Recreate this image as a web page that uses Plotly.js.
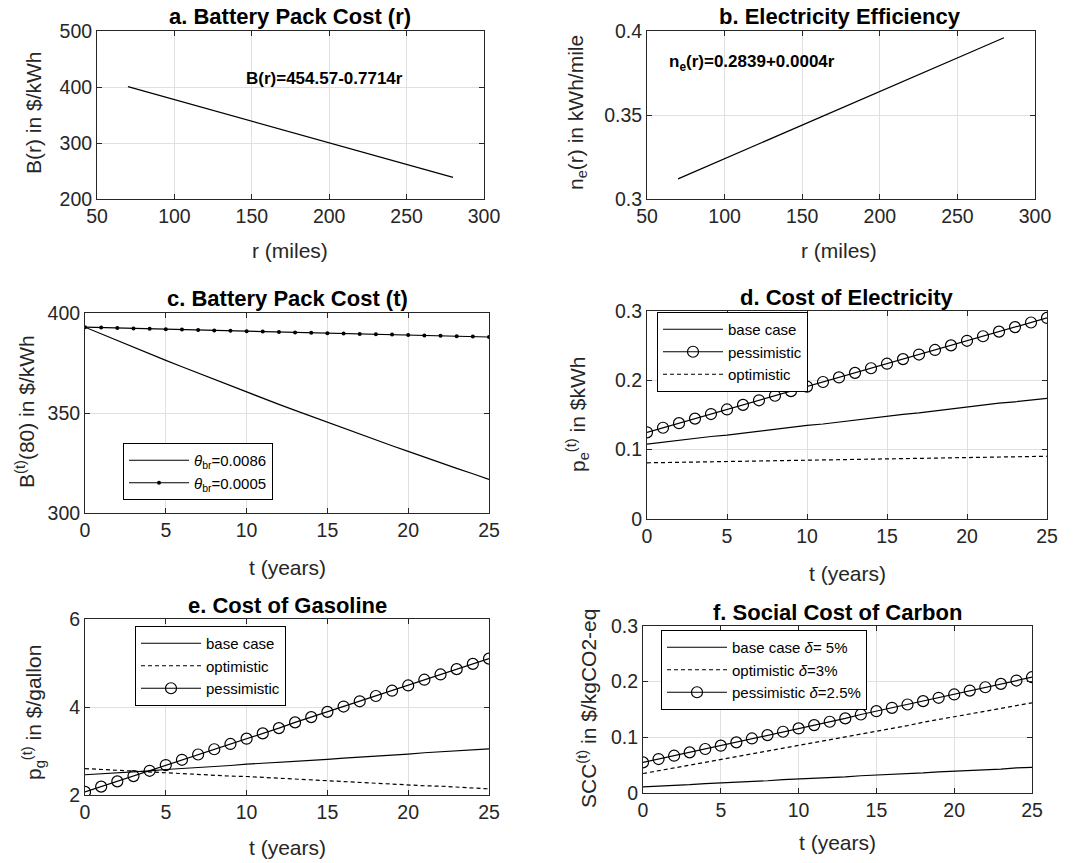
<!DOCTYPE html>
<html><head><meta charset="utf-8">
<script src="https://cdn.plot.ly/plotly-3.0.1.min.js"></script>
<style>html,body{margin:0;padding:0;background:#fff;}#chart{width:1078px;height:863px;}</style>
</head><body><div id="chart"></div>
<script>
// ---- data ----
const rMiles = [70, 280];
const batteryCostR = [400.6, 238.6];
const efficiencyR = [0.312, 0.396];
const years = [0,1,2,3,4,5,6,7,8,9,10,11,12,13,14,15,16,17,18,19,20,21,22,23,24,25];
const battery0086 = [392.9,389.5,386.2,382.9,379.6,376.3,373.1,369.9,366.7,363.6,360.5,357.4,354.3,351.3,348.3,345.3,342.3,339.4,336.5,333.6,330.8,327.9,325.1,322.3,319.6,316.8];
const battery0005 = [392.9,392.7,392.5,392.3,392.1,391.9,391.7,391.5,391.3,391.1,390.9,390.7,390.5,390.3,390.1,389.9,389.7,389.5,389.4,389.2,389.0,388.8,388.6,388.4,388.2,388.0];
const elecBase = [0.108,0.111,0.113,0.116,0.119,0.121,0.124,0.127,0.129,0.132,0.135,0.137,0.140,0.143,0.145,0.148,0.151,0.153,0.156,0.159,0.161,0.164,0.167,0.169,0.172,0.174];
const elecPess = [0.125,0.1316,0.1382,0.1448,0.1514,0.158,0.1646,0.1712,0.1778,0.1844,0.191,0.1976,0.2042,0.2108,0.2174,0.224,0.2306,0.2372,0.2438,0.2504,0.257,0.2636,0.2702,0.2768,0.2834,0.29];
const elecOpt = [0.0810,0.0814,0.0818,0.0821,0.0825,0.0829,0.0833,0.0837,0.0840,0.0844,0.0848,0.0852,0.0856,0.0859,0.0863,0.0867,0.0871,0.0875,0.0878,0.0882,0.0886,0.0890,0.0894,0.0897,0.0901,0.0905];
const gasBase = [2.46,2.48,2.51,2.53,2.55,2.58,2.60,2.63,2.65,2.67,2.70,2.72,2.74,2.77,2.79,2.81,2.84,2.86,2.88,2.91,2.93,2.96,2.98,3.00,3.03,3.05];
const gasOpt = [2.60,2.58,2.56,2.54,2.53,2.51,2.49,2.47,2.45,2.43,2.42,2.40,2.38,2.36,2.34,2.32,2.31,2.29,2.27,2.25,2.23,2.21,2.20,2.18,2.16,2.14];
const gasPess = [2.07,2.19,2.31,2.43,2.55,2.68,2.80,2.92,3.04,3.16,3.28,3.40,3.52,3.65,3.77,3.89,4.01,4.13,4.25,4.37,4.49,4.62,4.74,4.86,4.98,5.10];
const sccBase = [0.011,0.012,0.014,0.015,0.017,0.018,0.019,0.021,0.022,0.024,0.025,0.026,0.028,0.029,0.031,0.032,0.033,0.035,0.036,0.038,0.039,0.040,0.042,0.043,0.045,0.046];
const sccOpt = [0.035,0.040,0.045,0.050,0.055,0.060,0.065,0.070,0.076,0.081,0.086,0.091,0.096,0.101,0.106,0.111,0.116,0.121,0.127,0.132,0.137,0.142,0.147,0.152,0.157,0.162];
const sccPess = [0.055,0.061,0.067,0.073,0.079,0.085,0.091,0.098,0.104,0.110,0.116,0.122,0.128,0.134,0.141,0.147,0.153,0.159,0.165,0.171,0.177,0.184,0.190,0.196,0.202,0.208];

const rTicks = [50,100,150,200,250,300];
const tTicks = [0,5,10,15,20,25];
const yTicksA = [200,300,400,500];
const yTicksB = [0.3,0.35,0.4];
const yTicksC = [300,350,400];
const yTicksD = [0,0.1,0.2,0.3];
const yTicksE = [2,4,6];
const yTicksF = [0,0.1,0.2,0.3];

const titles = ['a. Battery Pack Cost (r)','b. Electricity Efficiency','c. Battery Pack Cost (t)','d. Cost of Electricity','e. Cost of Gasoline','f. Social Cost of Carbon'];
const xLabels = ['r (miles)','r (miles)','t (years)','t (years)','t (years)','t (years)'];
const yLabels = ['B(r) in $/kWh','n<sub>e</sub>(r) in kWh/mile','B<sup>(t)</sup>(80) in $/kWh','p<sub>e</sub><sup>(t)</sup> in $kWh','p<sub>g</sub><sup>(t)</sup> in $/gallon','SCC<sup>(t)</sup> in $/kgCO2-eq'];

// ---- layout helpers ----
const W = 1078, H = 863;
const FONT = 'Liberation Sans, Arial, sans-serif';
const px = v => v / W;
const py = v => 1 - v / H;

function axis(domain, range, ticks, extra) {
  return Object.assign({
    domain: domain, range: range, tickvals: ticks, ticktext: ticks.map(String),
    showline: true, mirror: 'ticks', linecolor: '#262626', linewidth: 1,
    ticks: 'inside', ticklen: 5, tickcolor: '#262626',
    showgrid: true, gridcolor: '#e0e0e0', gridwidth: 1, zeroline: false,
    tickfont: {family: FONT, size: 19.5, color: '#262626'}, fixedrange: true
  }, extra || {});
}

const DASH = '4px,3px';
const line = (dash) => ({color: '#000', width: 1.2, dash: dash || 'solid'});
const openCircle = {symbol: 'circle-open', size: 11, color: '#000', line: {width: 1.2}};
const traces = [
  {x: rMiles, y: batteryCostR, xaxis: 'x', yaxis: 'y', mode: 'lines', line: line(), showlegend: false},
  {x: rMiles, y: efficiencyR, xaxis: 'x2', yaxis: 'y2', mode: 'lines', line: line(), showlegend: false},
  {x: years, y: battery0086, xaxis: 'x3', yaxis: 'y3', mode: 'lines', line: line(), name: '<i>θ</i><sub>br</sub>=0.0086', legend: 'legend'},
  {x: years, y: battery0005, xaxis: 'x3', yaxis: 'y3', mode: 'lines+markers', line: line(), marker: {symbol: 'circle', size: 4, color: '#000'}, name: '<i>θ</i><sub>br</sub>=0.0005', legend: 'legend'},
  {x: years, y: elecBase, xaxis: 'x4', yaxis: 'y4', mode: 'lines', line: line(), name: 'base case', legend: 'legend2'},
  {x: years, y: elecPess, xaxis: 'x4', yaxis: 'y4', mode: 'lines+markers', line: line(), marker: openCircle, name: 'pessimistic', legend: 'legend2'},
  {x: years, y: elecOpt, xaxis: 'x4', yaxis: 'y4', mode: 'lines', line: line(DASH), name: 'optimistic', legend: 'legend2'},
  {x: years, y: gasBase, xaxis: 'x5', yaxis: 'y5', mode: 'lines', line: line(), name: 'base case', legend: 'legend3'},
  {x: years, y: gasOpt, xaxis: 'x5', yaxis: 'y5', mode: 'lines', line: line(DASH), name: 'optimistic', legend: 'legend3'},
  {x: years, y: gasPess, xaxis: 'x5', yaxis: 'y5', mode: 'lines+markers', line: line(), marker: openCircle, name: 'pessimistic', legend: 'legend3'},
  {x: years, y: sccBase, xaxis: 'x6', yaxis: 'y6', mode: 'lines', line: line(), name: 'base case <i>δ</i>= 5%', legend: 'legend4'},
  {x: years, y: sccOpt, xaxis: 'x6', yaxis: 'y6', mode: 'lines', line: line(DASH), name: 'optimistic <i>δ</i>=3%', legend: 'legend4'},
  {x: years, y: sccPess, xaxis: 'x6', yaxis: 'y6', mode: 'lines+markers', line: line(), marker: openCircle, name: 'pessimistic <i>δ</i>=2.5%', legend: 'legend4'}
];

const legendStyle = (x, y) => ({
  x: px(x), y: py(y), xanchor: 'left', yanchor: 'top', xref: 'paper', yref: 'paper',
  bgcolor: '#fff', bordercolor: '#000', borderwidth: 1, traceorder: 'normal',
  itemwidth: 60,
  font: {family: FONT, size: 15, color: '#000'}, itemclick: false, itemdoubleclick: false
});

// panel rectangles in pixels: [left, right, top, bottom]
const boxes = [[97,484,31,199],[647,1035,31,199],[85,489,313,513],[647,1047,311,519],[85,489,619,795],[643,1032,626,793]];
const titlePos = [[290,17],[840,17],[287,298],[846,297],[287,605],[837,612]];
const xLabPos = [[290,250],[839,250],[287,567],[847,573],[287,847],[837,842]];
const yLabPos = [[33,113],[577,113],[25,412],[578,415],[33,713],[587,709]];

const xr = [[50,300],[50,300],[0,25],[0,25],[0,25],[0,25]];
const yr = [[200,500],[0.3,0.4],[300,400],[0,0.3],[2,6],[0,0.3]];
const xt = [rTicks, rTicks, tTicks, tTicks, tTicks, tTicks];
const yt = [yTicksA, yTicksB, yTicksC, yTicksD, yTicksE, yTicksF];

const layout = {
  width: W, height: H, margin: {l: 0, r: 0, t: 0, b: 0},
  paper_bgcolor: '#fff', plot_bgcolor: '#fff',
  font: {family: FONT, color: '#000'},
  legend: legendStyle(123, 443),
  legend2: legendStyle(657, 312),
  legend3: legendStyle(135, 626),
  legend4: legendStyle(661, 630),
  annotations: []
};

boxes.forEach((b, i) => {
  const n = i === 0 ? '' : String(i + 1);
  layout['xaxis' + n] = axis([px(b[0]), px(b[1])], xr[i], xt[i], {anchor: 'y' + n});
  layout['yaxis' + n] = axis([py(b[3]), py(b[2])], yr[i], yt[i], {anchor: 'x' + n});
  layout.annotations.push({text: '<b>' + titles[i] + '</b>', xref: 'paper', yref: 'paper', x: px(titlePos[i][0]), y: py(titlePos[i][1]), xanchor: 'center', yanchor: 'middle', showarrow: false, font: {family: FONT, size: 22, color: '#000'}});
  layout.annotations.push({text: xLabels[i], xref: 'paper', yref: 'paper', x: px(xLabPos[i][0]), y: py(xLabPos[i][1]), xanchor: 'center', yanchor: 'middle', showarrow: false, font: {family: FONT, size: 21, color: '#262626'}});
  layout.annotations.push({text: yLabels[i], xref: 'paper', yref: 'paper', x: px(yLabPos[i][0]), y: py(yLabPos[i][1]), xanchor: 'center', yanchor: 'middle', textangle: -90, showarrow: false, font: {family: FONT, size: 21, color: '#262626'}});
});

layout.annotations.push({text: '<b>B(r)=454.57-0.7714r</b>', xref: 'x', yref: 'y', x: 145, y: 416, xanchor: 'left', yanchor: 'middle', showarrow: false, font: {family: FONT, size: 17, color: '#000'}});
layout.annotations.push({text: '<b>n<sub>e</sub>(r)=0.2839+0.0004r</b>', xref: 'x2', yref: 'y2', x: 63, y: 0.381, xanchor: 'left', yanchor: 'middle', showarrow: false, font: {family: FONT, size: 17, color: '#000'}});

Plotly.newPlot('chart', traces, layout, {displayModeBar: false, staticPlot: true});
</script>
</body></html>
